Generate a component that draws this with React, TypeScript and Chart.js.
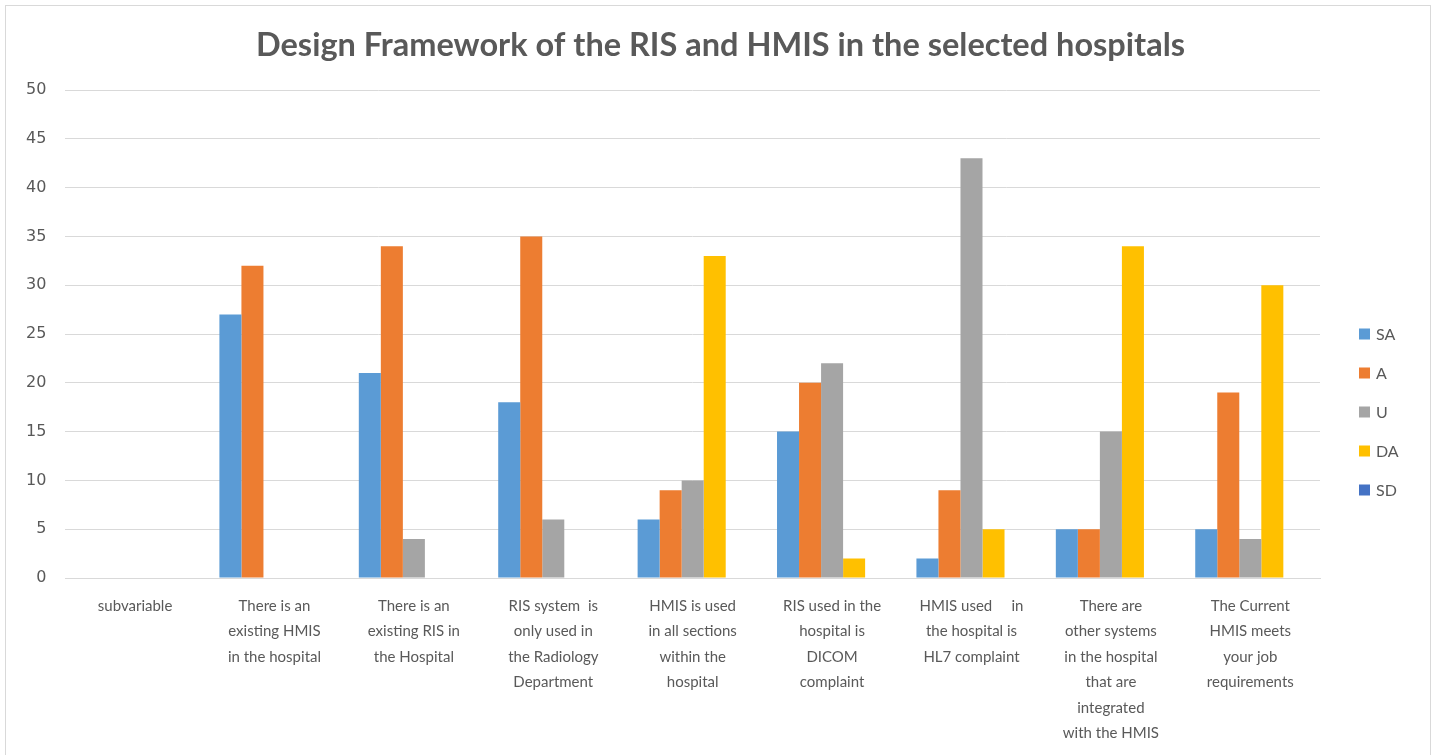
import React, { useEffect, useRef } from "react";
import { Chart, registerables } from "chart.js";

Chart.register(...registerables);

const chartTitle = "Design Framework of the RIS and HMIS in the selected hospitals";

const categories: string[][] = [
  ["subvariable"],
  ["There is an", "existing HMIS", "in the hospital"],
  ["There is an", "existing RIS in", "the Hospital"],
  ["RIS system  is", "only used in", "the Radiology", "Department"],
  ["HMIS is used", "in all sections", "within the", "hospital"],
  ["RIS used in the", "hospital is", "DICOM", "complaint"],
  ["HMIS used     in", "the hospital is", "HL7 complaint"],
  ["There are", "other systems", "in the hospital", "that are", "integrated", "with the HMIS"],
  ["The Current", "HMIS meets", "your job", "requirements"],
];

const seriesNames = ["SA", "A", "U", "DA", "SD"];
const seriesColors = ["#5B9BD5", "#ED7D31", "#A5A5A5", "#FFC000", "#4472C4"];

const saValues = [0, 27, 21, 18, 6, 15, 2, 5, 5];
const aValues = [0, 32, 34, 35, 9, 20, 9, 5, 19];
const uValues = [0, 0, 4, 6, 10, 22, 43, 15, 4];
const daValues = [0, 0, 0, 0, 33, 2, 5, 34, 30];
const sdValues = [0, 0, 0, 0, 0, 0, 0, 0, 0];

const yTicks = [0, 5, 10, 15, 20, 25, 30, 35, 40, 45, 50];

const TEXT = "#595959";
const GRID = "#D9D9D9";
const FONT = "Lato, 'Open Sans', sans-serif";

const sideLegend = {
  id: "sideLegend",
  afterDraw(chart: any) {
    const { ctx, chartArea } = chart;
    const x = chartArea.right + 39;
    const top = chartArea.top + 244;
    const step = 39;
    ctx.save();
    ctx.font = `16px ${FONT}`;
    ctx.textBaseline = "middle";
    ctx.textAlign = "left";
    chart.data.datasets.forEach((ds: any, i: number) => {
      const cy = top + i * step;
      ctx.fillStyle = ds.backgroundColor;
      ctx.fillRect(x, cy - 5.5, 11, 11);
      ctx.fillStyle = TEXT;
      ctx.fillText(ds.label, x + 17, cy + 1);
    });
    ctx.restore();
  },
};

export default function App() {
  const ref = useRef<HTMLCanvasElement | null>(null);

  useEffect(() => {
    if (!ref.current) return;
    const values = [saValues, aValues, uValues, daValues, sdValues];
    const chart = new Chart(ref.current, {
      type: "bar",
      data: {
        labels: categories,
        datasets: seriesNames.map((name, i) => ({
          label: name,
          data: values[i],
          backgroundColor: seriesColors[i],
          borderWidth: 0,
          categoryPercentage: 0.79,
          barPercentage: 1,
        })),
      },
      options: {
        responsive: false,
        animation: false,
        devicePixelRatio: 1,
        layout: { padding: { left: 7, right: 0, top: 0, bottom: 0 } },
        plugins: {
          legend: { display: false },
          tooltip: { enabled: false },
          title: {
            display: true,
            text: chartTitle,
            color: TEXT,
            font: { family: FONT, size: 32.5, weight: "bold", lineHeight: 1.2 },
            padding: { top: 26, bottom: 25 },
          },
        },
        scales: {
          x: {
            grid: { display: false },
            border: { color: GRID },
            afterFit(scale: any) {
              scale.height = 177;
            },
            ticks: {
              color: TEXT,
              font: { family: FONT, size: 15, lineHeight: 1.7 },
              padding: 7,
              maxRotation: 0,
              minRotation: 0,
              autoSkip: false,
            },
          },
          y: {
            min: 0,
            max: 50,
            afterBuildTicks(scale: any) {
              scale.ticks = yTicks.map((v) => ({ value: v }));
            },
            grid: { color: GRID, drawTicks: false },
            border: { display: false },
            ticks: {
              color: TEXT,
              font: { family: "'DejaVu Sans', sans-serif", size: 16 },
              padding: 19,
            },
          },
          yRight: {
            position: "right",
            display: true,
            min: 0,
            max: 50,
            grid: { drawOnChartArea: false, display: false },
            border: { display: false },
            ticks: { display: false },
            afterFit(scale: any) {
              scale.width = 114;
            },
          },
        },
      },
      plugins: [sideLegend],
    });
    return () => chart.destroy();
  }, []);

  return (
    <div style={{ position: "fixed", left: 0, top: 0, width: 1434, height: 755, background: "#fff", overflow: "hidden" }}>
      <div style={{ position: "absolute", left: 5, top: 5, width: 1424, height: 800, border: `1px solid ${GRID}` }} />
      <canvas ref={ref} width={1434} height={755} style={{ position: "absolute", left: 0, top: 0 }} />
    </div>
  );
}
